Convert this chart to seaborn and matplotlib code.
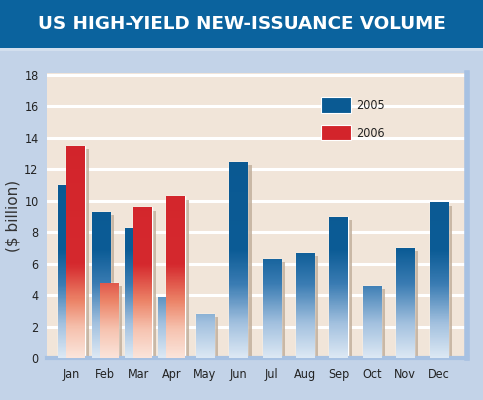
import matplotlib
matplotlib.use('Agg')
import matplotlib.pyplot as plt
import matplotlib.patheffects as pe
from matplotlib import font_manager
from matplotlib.colors import LinearSegmentedColormap, Normalize
from matplotlib.patches import Rectangle
import seaborn as sns
import numpy as np
import pandas as pd

# data ($ billion)
months = ['Jan', 'Feb', 'Mar', 'Apr', 'May', 'Jun', 'Jul', 'Aug', 'Sep', 'Oct', 'Nov', 'Dec']
vol_2005 = [11.0, 9.3, 8.3, 3.9, 2.8, 12.5, 6.3, 6.7, 9.0, 4.6, 7.0, 9.9]
vol_2006 = [13.5, 4.8, 9.6, 10.3]
yticks = [0, 2, 4, 6, 8, 10, 12, 14, 16, 18]

BG = '#c3d3e8'
PLOT_BG = '#f1e5d9'
BANNER = '#0b639e'
EDGE = '#a7c1e2'
TXT = '#222222'

sns.set_theme(style='white')
installed = {f.name for f in font_manager.fontManager.ttflist}
narrow = 'Liberation Sans Narrow' if 'Liberation Sans Narrow' in installed else 'DejaVu Sans'
plt.rcParams['font.family'] = [narrow, 'DejaVu Sans']
if narrow == 'DejaVu Sans':
    plt.rcParams['font.stretch'] = 'condensed'

df05 = pd.DataFrame({'month': months, 'volume': vol_2005})
df06 = pd.DataFrame({'month': months[:len(vol_2006)], 'volume': vol_2006})

fig = plt.figure(figsize=(4.83, 4.0), dpi=100, facecolor=BG)
ax = fig.add_axes([0.0973, 0.105, 0.869, 0.7125])
ax.set_facecolor(PLOT_BG)

sns.barplot(data=df05, x='month', y='volume', order=months, width=0.54,
            color='#0a5a93', saturation=1, label='2005', ax=ax, zorder=2)
n05 = len(ax.patches)
sns.barplot(data=df06, x='month', y='volume', order=months, width=0.56,
            color='#d3242b', saturation=1, label='2006', ax=ax, zorder=2)

bars05 = ax.patches[:n05]
bars06 = ax.patches[n05:]

# overlap the two years where both exist
shift = 0.125
for i in range(len(vol_2006)):
    bars05[i].set_x(bars05[i].get_x() - shift)
    bars06[i].set_x(bars06[i].get_x() + shift)

cmap05 = LinearSegmentedColormap.from_list('b05', [
    (0.0, '#dce8f4'), (0.12, '#a3c1df'), (0.26, '#3a7cb3'),
    (0.38, '#0c5c96'), (1.0, '#09568f')])
cmap06 = LinearSegmentedColormap.from_list('r06', [
    (0.0, '#fbe4da'), (0.1, '#f6c3b0'), (0.2, '#ec8468'),
    (0.33, '#d5292e'), (1.0, '#d1222a')])
norm = Normalize(0, 18)

shadow = [pe.SimplePatchShadow(offset=(3, -2.5), shadow_rgbFace='#c2b19e', alpha=0.85),
          pe.Normal()]

for bars, cmap in [(bars05, cmap05), (bars06, cmap06)]:
    for p in bars:
        h = p.get_height()
        if not np.isfinite(h) or h <= 0:
            continue
        x0 = p.get_x()
        x1 = x0 + p.get_width()
        grad = np.linspace(0, h, 200).reshape(-1, 1)
        im = ax.imshow(grad, extent=(x0, x1, 0, h), origin='lower', aspect='auto',
                       cmap=cmap, norm=norm, zorder=3, interpolation='bilinear')
        im.set_clip_path(p)

ax.set_xlim(-0.73, 11.84)
ax.set_ylim(0, 18.13)
ax.set_yticks(yticks)
ax.yaxis.grid(True, color='white', linewidth=2.2)
ax.set_axisbelow(True)

for s in ['top', 'left']:
    ax.spines[s].set_visible(False)
ax.spines['bottom'].set_color(EDGE)
ax.spines['bottom'].set_linewidth(3)
ax.spines['right'].set_color(EDGE)
ax.spines['right'].set_linewidth(4)

ax.tick_params(axis='both', length=0, labelsize=9, colors=TXT)
ax.tick_params(axis='y', pad=6)
ax.tick_params(axis='x', pad=7)
ax.set_xlabel('')
ax.set_ylabel('($ billion)', fontsize=11, color='#333333', fontstretch='normal')
ax.yaxis.set_label_coords(-0.062, 0.5)

leg = ax.legend(loc='upper left', bbox_to_anchor=(0.652, 0.915), frameon=False,
                fontsize=9, handlelength=2.4, handleheight=1.55,
                labelspacing=0.95, handletextpad=0.45, borderpad=0, borderaxespad=0)
for t in leg.get_texts():
    t.set_color(TXT)
for hnd in leg.legend_handles:
    hnd.set_edgecolor('white')
    hnd.set_linewidth(0.8)

# drop shadows on bars only (added after the legend so handles stay flat)
for p in bars05 + bars06:
    if np.isfinite(p.get_height()) and p.get_height() > 0:
        p.set_path_effects(shadow)

# title banner
fig.patches.append(Rectangle((0, 0.88), 1, 0.12, transform=fig.transFigure,
                             facecolor=BANNER, edgecolor='none', zorder=0))
fig.patches.append(Rectangle((0, 0.872), 1, 0.008, transform=fig.transFigure,
                             facecolor='#d3dfee', edgecolor='none', zorder=0))
fig.text(0.5, 0.94, 'US HIGH-YIELD NEW-ISSUANCE VOLUME', ha='center', va='center',
         color='white', fontsize=13.2, fontweight='bold', family='DejaVu Sans',
         fontstretch='normal')

fig.savefig('out.png', dpi=100, facecolor=BG)
